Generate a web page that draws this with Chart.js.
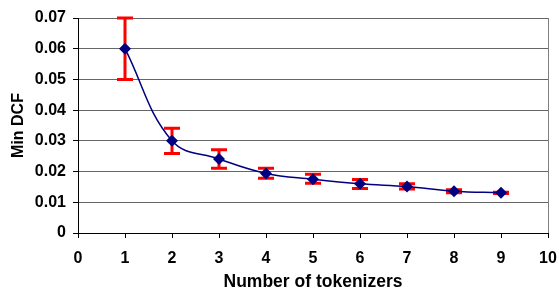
<!DOCTYPE html>
<html>
<head>
<meta charset="utf-8">
<script src="https://cdn.jsdelivr.net/npm/chart.js@4/dist/chart.umd.min.js"></script>
<style>
html,body{margin:0;padding:0;background:#fff;}
#wrap{width:559px;height:289px;}
</style>
</head>
<body>
<div id="wrap"><canvas id="c" width="559" height="289"></canvas></div>
<script>
const tokenizers = [1, 2, 3, 4, 5, 6, 7, 8, 9];
const minDCF = [0.060, 0.030, 0.0241, 0.0194, 0.0175, 0.0160, 0.0151, 0.0136, 0.0131];
const errHigh = [0.070, 0.0341, 0.0271, 0.0211, 0.0191, 0.0174, 0.0160, 0.0141, 0.0133];
const errLow = [0.050, 0.0259, 0.0211, 0.0178, 0.0162, 0.0145, 0.0143, 0.0131, 0.0129];
const xTicks = [0, 1, 2, 3, 4, 5, 6, 7, 8, 9, 10];
const yTicks = [0, 0.01, 0.02, 0.03, 0.04, 0.05, 0.06, 0.07];

const points = tokenizers.map((t, i) => ({x: t, y: minDCF[i]}));

const errorBars = {
  id: 'errorBars',
  beforeDatasetsDraw(chart) {
    const {ctx, scales} = chart;
    ctx.save();
    ctx.strokeStyle = '#ff0000';
    ctx.lineWidth = 3;
    tokenizers.forEach((t, i) => {
      const px = scales.x.getPixelForValue(t);
      const hi = scales.y.getPixelForValue(errHigh[i]);
      const lo = scales.y.getPixelForValue(errLow[i]);
      ctx.beginPath();
      ctx.moveTo(px, hi); ctx.lineTo(px, lo);
      ctx.moveTo(px - 8, hi); ctx.lineTo(px + 8, hi);
      ctx.moveTo(px - 8, lo); ctx.lineTo(px + 8, lo);
      ctx.stroke();
    });
    ctx.restore();
  }
};

const frame = {
  id: 'frame',
  beforeDatasetsDraw(chart) {
    const {ctx, chartArea: a} = chart;
    ctx.save();
    ctx.strokeStyle = '#808080';
    ctx.lineWidth = 1;
    ctx.beginPath();
    ctx.moveTo(Math.round(a.right) + 0.5, a.top);
    ctx.lineTo(Math.round(a.right) + 0.5, a.bottom);
    ctx.stroke();
    ctx.restore();
  }
};

new Chart(document.getElementById('c'), {
  type: 'scatter',
  data: {
    datasets: [{
      data: points,
      showLine: true,
      borderColor: '#000080',
      borderWidth: 1.5,
      tension: 0.4,
      pointStyle: 'rectRot',
      pointRadius: 6,
      pointBackgroundColor: '#000080',
      pointBorderColor: '#000080',
      pointBorderWidth: 0
    }]
  },
  options: {
    responsive: false,
    animation: false,
    devicePixelRatio: 1,
    layout: {padding: {top: 18, right: 11, left: 0, bottom: 0}},
    plugins: {legend: {display: false}, tooltip: {enabled: false}},
    scales: {
      x: {
        type: 'linear',
        min: 0, max: 10,
        afterBuildTicks(s) { s.ticks = xTicks.map(v => ({value: v})); },
        afterFit(s) { s.height = 56; s.paddingLeft = 0; s.paddingRight = 0; },
        grid: {drawOnChartArea: false, drawTicks: true, tickLength: 5, color: '#000', tickColor: '#000'},
        border: {color: '#000', width: 1},
        ticks: {color: '#000', font: {family: 'Liberation Sans', size: 16, weight: 'bold'}, padding: 11, maxRotation: 0},
        title: {display: true, text: 'Number of tokenizers', color: '#000', font: {family: 'Liberation Sans', size: 17.5, weight: 'bold'}, padding: {top: 0, bottom: -4}}
      },
      y: {
        type: 'linear',
        min: 0, max: 0.07,
        afterBuildTicks(s) { s.ticks = yTicks.map(v => ({value: v})); },
        afterFit(s) { s.width = 78; s.paddingTop = 0; s.paddingBottom = 0; },
        grid: {color: '#666', lineWidth: 1, drawTicks: true, tickLength: 5, tickColor: '#000'},
        border: {color: '#000', width: 1},
        ticks: {
          color: '#000', padding: 7,
          font: {family: 'Liberation Sans', size: 16, weight: 'bold'},
          callback: v => v === 0 ? '0' : v.toFixed(2)
        },
        title: {display: true, text: 'Min DCF', color: '#000', font: {family: 'Liberation Sans', size: 16, weight: 'bold'}, padding: {top: 9, bottom: 4}}
      }
    }
  },
  plugins: [errorBars, frame]
});
</script>
</body>
</html>
